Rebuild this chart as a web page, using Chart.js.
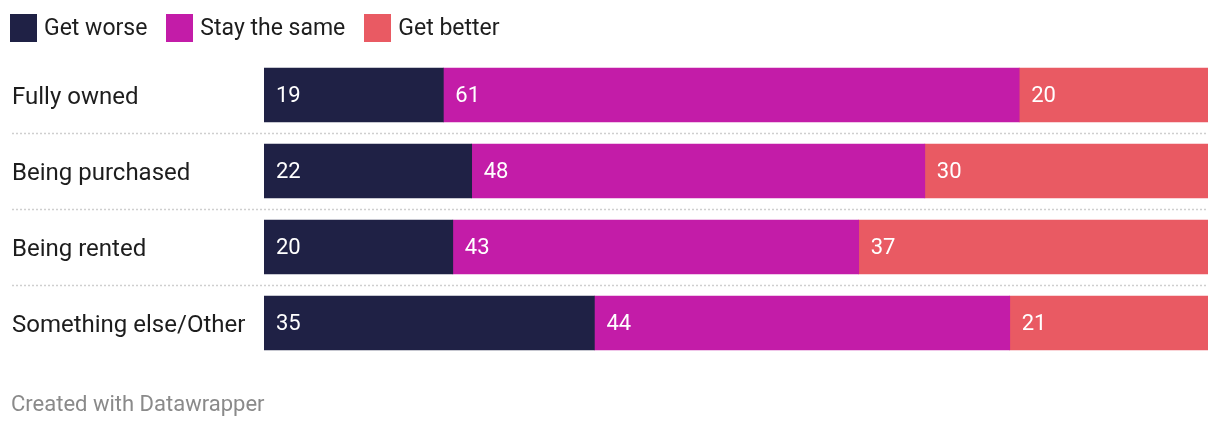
<!DOCTYPE html>
<html>
<head>
<meta charset="utf-8">
<script src="https://cdn.jsdelivr.net/npm/chart.js@4"></script>
<style>
  body { margin: 0; background: #fff; font-family: Roboto, sans-serif; }
  #wrap { position: relative; width: 1220px; height: 428px; }
  #chart-box { position: absolute; left: 0; top: 0; width: 1220px; height: 428px; }
  #legend { position: absolute; left: 10px; top: 14px; display: flex; font-size: 23px; color: #1d1d1d; line-height: 28px; }
  #legend .item { display: flex; align-items: center; margin-right: 19px; }
  #legend .sw { width: 27px; height: 28px; margin-right: 7px; }
  #footer { position: absolute; left: 11px; top: 391px; font-size: 22px; color: #8a8a8a; }
</style>
</head>
<body>
<div id="wrap">
  <div id="chart-box"><canvas id="c"></canvas></div>
  <div id="legend"></div>
  <div id="footer">Created with Datawrapper</div>
</div>
<script>
// --- data ---
const categories = ['Fully owned', 'Being purchased', 'Being rented', 'Something else/Other'];
const seriesNames = ['Get worse', 'Stay the same', 'Get better'];
const getWorse = [19, 22, 20, 35];
const staySame = [61, 48, 43, 44];
const getBetter = [20, 30, 37, 21];
const colors = ['#1f2145', '#c31ca8', '#e95a63'];

// --- legend (html) ---
const legendDiv = document.getElementById('legend');
seriesNames.forEach((name, i) => {
  const item = document.createElement('div');
  item.className = 'item';
  item.innerHTML = `<span class="sw" style="background:${colors[i]}"></span><span>${name}</span>`;
  legendDiv.appendChild(item);
});

// --- dotted separators between rows ---
const separators = {
  id: 'separators',
  beforeDatasetsDraw(chart) {
    const y = chart.scales.y;
    const ctx = chart.ctx;
    const band = y.getPixelForValue(1) - y.getPixelForValue(0);
    ctx.save();
    ctx.strokeStyle = '#cfcfcf';
    ctx.lineWidth = 1.5;
    ctx.setLineDash([2, 2]);
    for (let i = 0; i < categories.length - 1; i++) {
      const py = Math.round(y.getPixelForValue(i) + band / 2) + 0.5;
      ctx.beginPath();
      ctx.moveTo(12, py);
      ctx.lineTo(chart.chartArea.right, py);
      ctx.stroke();
    }
    ctx.restore();
  }
};

// --- value labels inside bars ---
const valueLabels = {
  id: 'valueLabels',
  afterDatasetsDraw(chart) {
    const ctx = chart.ctx;
    ctx.save();
    ctx.fillStyle = '#fff';
    ctx.font = '22px Roboto, sans-serif';
    ctx.textBaseline = 'middle';
    ctx.textAlign = 'left';
    chart.data.datasets.forEach((ds, di) => {
      chart.getDatasetMeta(di).data.forEach((bar, i) => {
        const left = Math.min(bar.x, bar.base);
        ctx.fillText(String(ds.data[i]), left + 12, bar.y + 1);
      });
    });
    ctx.restore();
  }
};

new Chart(document.getElementById('c'), {
  type: 'bar',
  data: {
    labels: categories,
    datasets: [
      { label: seriesNames[0], data: getWorse, backgroundColor: colors[0] },
      { label: seriesNames[1], data: staySame, backgroundColor: colors[1] },
      { label: seriesNames[2], data: getBetter, backgroundColor: colors[2] }
    ]
  },
  options: {
    indexAxis: 'y',
    responsive: true,
    maintainAspectRatio: false,
    animation: false,
    layout: { padding: { left: 12, right: 12, top: 57, bottom: 67 } },
    datasets: { bar: { barThickness: 54, borderWidth: 0 } },
    plugins: { legend: { display: false }, tooltip: { enabled: false } },
    scales: {
      x: { stacked: true, min: 0, max: 100, display: false },
      y: {
        stacked: true,
        grid: { display: false },
        border: { display: false },
        ticks: {
          crossAlign: 'far',
          padding: 0,
          labelOffset: 3,
          color: '#1d1d1d',
          font: { family: 'Roboto, sans-serif', size: 24 }
        },
        afterFit(scale) { scale.width = 252; }
      }
    }
  },
  plugins: [separators, valueLabels]
});
</script>
</body>
</html>
